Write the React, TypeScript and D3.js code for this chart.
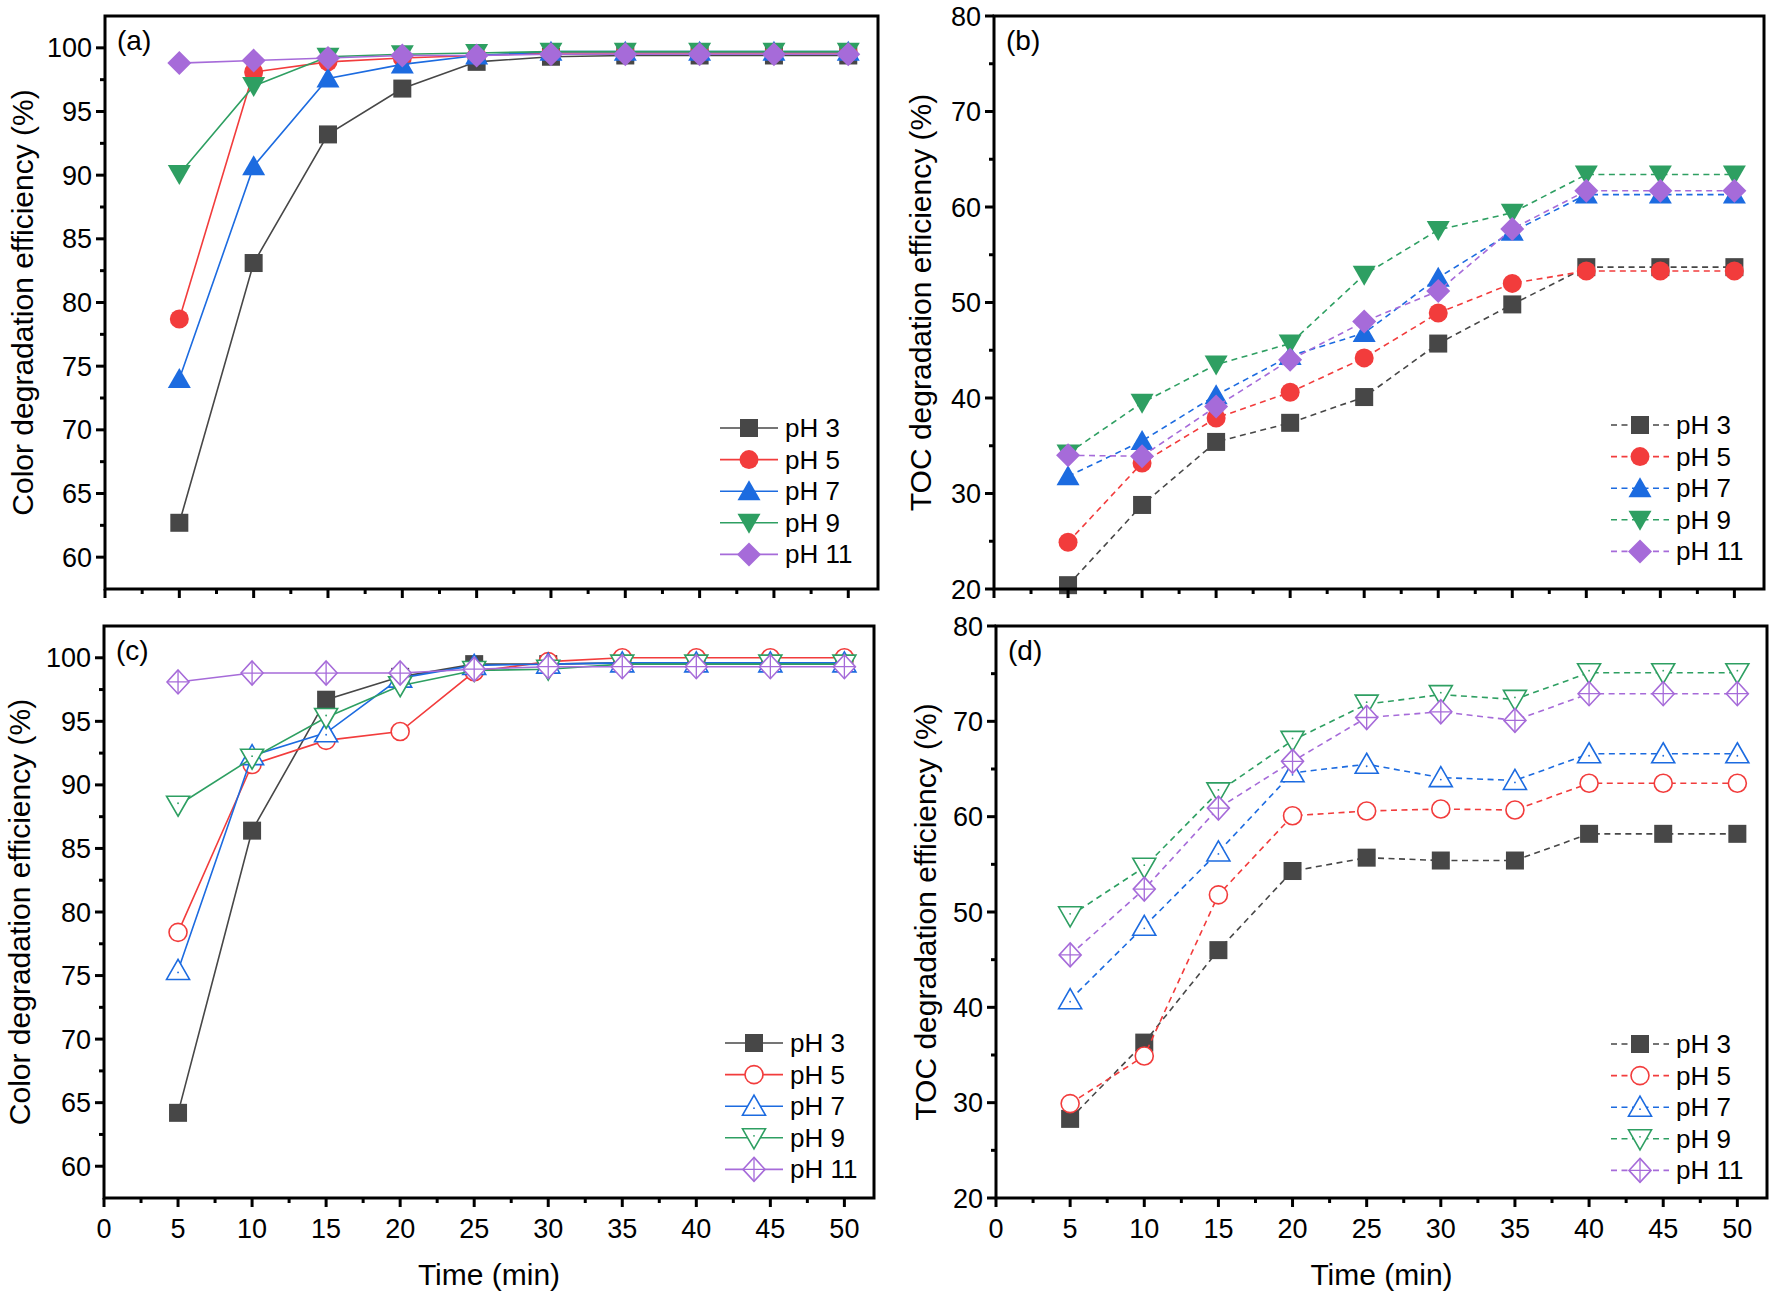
import React from "react";
import * as d3 from "d3";

// sampling times (min)
const times = [5, 10, 15, 20, 25, 30, 35, 40, 45, 50];
const seriesNames = ["pH 3", "pH 5", "pH 7", "pH 9", "pH 11"];
const seriesColors = ["#474747", "#f23c3c", "#1c6be0", "#2e9f62", "#a66bd9"];
const markerKinds = ["square", "circle", "triUp", "triDown", "diamond"];

// (a) colour removal, filled symbols
const colorA = [
  [62.7, 83.1, 93.2, 96.8, 98.9, 99.3, 99.4, 99.4, 99.4, 99.4],
  [78.7, 98.1, 98.9, 99.2, 99.4, 99.6, 99.6, 99.6, 99.6, 99.6],
  [74.0, 90.7, 97.6, 98.7, 99.4, 99.7, 99.7, 99.7, 99.7, 99.7],
  [90.1, 97.0, 99.3, 99.5, 99.6, 99.7, 99.7, 99.7, 99.7, 99.7],
  [98.8, 99.0, 99.2, 99.4, 99.4, 99.5, 99.5, 99.5, 99.5, 99.5],
];
// (b) TOC removal, filled symbols
const tocB = [
  [20.4, 28.8, 35.4, 37.4, 40.1, 45.7, 49.8, 53.7, 53.7, 53.7],
  [24.9, 33.2, 37.9, 40.6, 44.2, 48.9, 52.0, 53.3, 53.3, 53.3],
  [31.8, 35.5, 40.3, 44.4, 46.8, 52.6, 57.4, 61.3, 61.3, 61.3],
  [34.2, 39.5, 43.5, 45.7, 52.9, 57.6, 59.4, 63.4, 63.4, 63.4],
  [34.0, 33.9, 39.1, 44.0, 48.0, 51.2, 57.7, 61.7, 61.7, 61.7],
];
// (c) colour removal, open symbols
const colorC = [
  [64.2, 86.4, 96.7, 98.5, 99.5, 99.5, 99.6, 99.6, 99.6, 99.6],
  [78.4, 91.6, 93.5, 94.2, 98.9, 99.7, 100.0, 100.0, 100.0, 100.0],
  [75.4, 92.3, 94.1, 98.4, 99.4, 99.5, 99.6, 99.6, 99.6, 99.6],
  [88.4, 92.1, 95.3, 97.8, 99.0, 99.1, 99.5, 99.5, 99.5, 99.5],
  [98.1, 98.8, 98.8, 98.8, 99.1, 99.3, 99.3, 99.3, 99.3, 99.3],
];
// (d) TOC removal, open symbols
const tocD = [
  [28.3, 36.3, 46.0, 54.3, 55.7, 55.4, 55.4, 58.2, 58.2, 58.2],
  [29.9, 34.9, 51.8, 60.1, 60.6, 60.8, 60.7, 63.5, 63.5, 63.5],
  [40.8, 48.5, 56.3, 64.6, 65.5, 64.1, 63.8, 66.6, 66.6, 66.6],
  [49.6, 54.7, 62.6, 68.0, 71.8, 72.8, 72.3, 75.1, 75.1, 75.1],
  [45.5, 52.4, 60.9, 65.8, 70.4, 71.0, 70.1, 72.9, 72.9, 72.9],
];

const xTicks = [0, 5, 10, 15, 20, 25, 30, 35, 40, 45, 50];
const colorTicks = [60, 65, 70, 75, 80, 85, 90, 95, 100];
const tocTicks = [20, 30, 40, 50, 60, 70, 80];

const FONT = "'Liberation Sans', Arial, Helvetica, sans-serif";

type MarkerProps = { kind: string; x: number; y: number; color: string; hollow: boolean };

const Marker = ({ kind, x, y, color, hollow }: MarkerProps) => {
  const fill = hollow ? "#fff" : color;
  const stroke = hollow ? color : "none";
  const sw = 1.6;
  if (kind === "square") {
    return <rect x={x - 9} y={y - 9} width={18} height={18} fill={color} />;
  }
  if (kind === "circle") {
    return <circle cx={x} cy={y} r={hollow ? 9 : 9.5} fill={fill} stroke={stroke} strokeWidth={sw} />;
  }
  if (kind === "triUp" || kind === "triDown") {
    const s = kind === "triUp" ? 1 : -1;
    const d = `M${x},${y - 11 * s}L${x + 11.5},${y + 9 * s}L${x - 11.5},${y + 9 * s}Z`;
    return (
      <g>
        <path d={d} fill={fill} stroke={stroke} strokeWidth={sw} strokeLinejoin="miter" />
        {hollow && <circle cx={x} cy={y + 2 * s} r={0.9} fill={color} />}
      </g>
    );
  }
  // diamond
  const rx = hollow ? 11 : 12;
  const ry = 12;
  const d = `M${x},${y - ry}L${x + rx},${y}L${x},${y + ry}L${x - rx},${y}Z`;
  return (
    <g>
      <path d={d} fill={fill} stroke={stroke} strokeWidth={sw} />
      {hollow && (
        <path d={`M${x - rx},${y}H${x + rx}M${x},${y - ry}V${y + ry}`} stroke={color} strokeWidth={1.3} />
      )}
    </g>
  );
};

type PanelProps = {
  box: { x0: number; x1: number; y0: number; y1: number };
  data: number[][];
  yDomain: [number, number];
  yTicks: number[];
  dashed: boolean;
  hollow: boolean;
  xLabels: boolean;
  yTitle: string;
  yTitleX: number;
  tag: string;
  legendX: number;
  legendY: number;
};

const Panel = ({ box, data, yDomain, yTicks, dashed, hollow, xLabels, yTitle, yTitleX, tag, legendX, legendY }: PanelProps) => {
  const x = d3.scaleLinear().domain([0, 52]).range([box.x0, box.x1]);
  const y = d3.scaleLinear().domain(yDomain).range([box.y1, box.y0]);
  const line = d3
    .line<number>()
    .x((_, i) => x(times[i]))
    .y((v) => y(v));
  const xStep = xTicks[1] - xTicks[0];
  const xMinor = xTicks.slice(0, -1).map((t) => t + xStep / 2);
  const yStep = yTicks[1] - yTicks[0];
  const yMinor = yTicks.slice(0, -1).map((t) => t + yStep / 2);
  const dash = dashed ? "6,4.5" : undefined;

  return (
    <g>
      {data.map((vals, si) => (
        <g key={si}>
          <path d={line(vals) || ""} fill="none" stroke={seriesColors[si]} strokeWidth={1.6} strokeDasharray={dash} />
          {vals.map((v, i) => (
            <Marker key={i} kind={markerKinds[si]} x={x(times[i])} y={y(v)} color={seriesColors[si]} hollow={hollow} />
          ))}
        </g>
      ))}

      {/* frame */}
      <rect x={box.x0} y={box.y0} width={box.x1 - box.x0} height={box.y1 - box.y0} fill="none" stroke="#000" strokeWidth={3} />

      {/* x ticks */}
      {xTicks.map((t) => (
        <line key={"xt" + t} x1={x(t)} x2={x(t)} y1={box.y1} y2={box.y1 + 9} stroke="#000" strokeWidth={3} />
      ))}
      {xMinor.map((t) => (
        <line key={"xm" + t} x1={x(t)} x2={x(t)} y1={box.y1} y2={box.y1 + 5} stroke="#000" strokeWidth={3} />
      ))}
      {xLabels &&
        xTicks.map((t) => (
          <text key={"xl" + t} x={x(t)} y={box.y1 + 40} textAnchor="middle" fontSize={27} fontFamily={FONT}>
            {t}
          </text>
        ))}

      {/* y ticks */}
      {yTicks.map((t) => (
        <g key={"yt" + t}>
          <line x1={box.x0 - 9} x2={box.x0} y1={y(t)} y2={y(t)} stroke="#000" strokeWidth={3} />
          <text x={box.x0 - 13} y={y(t) + 9.5} textAnchor="end" fontSize={27} fontFamily={FONT}>
            {t}
          </text>
        </g>
      ))}
      {yMinor.map((t) => (
        <line key={"ym" + t} x1={box.x0 - 5} x2={box.x0} y1={y(t)} y2={y(t)} stroke="#000" strokeWidth={3} />
      ))}

      <text
        transform={`translate(${yTitleX},${(box.y0 + box.y1) / 2}) rotate(-90)`}
        textAnchor="middle"
        dy="0.35em"
        fontSize={30}
        fontFamily={FONT}
      >
        {yTitle}
      </text>

      <text x={box.x0 + 12} y={box.y0 + 34} fontSize={28} fontFamily={FONT}>
        {tag}
      </text>

      {/* legend */}
      {seriesNames.map((name, si) => {
        const ly = legendY + si * 31.6;
        return (
          <g key={name}>
            <line x1={legendX - 29} x2={legendX + 29} y1={ly} y2={ly} stroke={seriesColors[si]} strokeWidth={1.6} strokeDasharray={dash} />
            <Marker kind={markerKinds[si]} x={legendX} y={ly} color={seriesColors[si]} hollow={hollow} />
            <text x={legendX + 36} y={ly + 9} fontSize={26} fontFamily={FONT}>
              {name}
            </text>
          </g>
        );
      })}

      {xLabels && (
        <text x={(box.x0 + box.x1) / 2} y={box.y1 + 87} textAnchor="middle" fontSize={30} fontFamily={FONT}>
          Time (min)
        </text>
      )}
    </g>
  );
};

export default function App() {
  return (
    <svg width={1772} height={1297} style={{ position: "absolute", left: 0, top: 0, background: "#fff" }}>
      <rect width={1772} height={1297} fill="#fff" />
      <Panel
        box={{ x0: 105, x1: 878, y0: 16, y1: 589 }}
        data={colorA}
        yDomain={[57.5, 102.5]}
        yTicks={colorTicks}
        dashed={false}
        hollow={false}
        xLabels={false}
        yTitle="Color degradation efficiency (%)"
        yTitleX={22}
        tag="(a)"
        legendX={749}
        legendY={428}
      />
      <Panel
        box={{ x0: 994, x1: 1764, y0: 16, y1: 589 }}
        data={tocB}
        yDomain={[20, 80]}
        yTicks={tocTicks}
        dashed={true}
        hollow={false}
        xLabels={false}
        yTitle="TOC degradation efficiency (%)"
        yTitleX={920}
        tag="(b)"
        legendX={1640}
        legendY={425}
      />
      <Panel
        box={{ x0: 104, x1: 874, y0: 626, y1: 1198 }}
        data={colorC}
        yDomain={[57.5, 102.5]}
        yTicks={colorTicks}
        dashed={false}
        hollow={true}
        xLabels={true}
        yTitle="Color degradation efficiency (%)"
        yTitleX={19}
        tag="(c)"
        legendX={754}
        legendY={1043}
      />
      <Panel
        box={{ x0: 996, x1: 1767, y0: 626, y1: 1198 }}
        data={tocD}
        yDomain={[20, 80]}
        yTicks={tocTicks}
        dashed={true}
        hollow={true}
        xLabels={true}
        yTitle="TOC degradation efficiency (%)"
        yTitleX={925}
        tag="(d)"
        legendX={1640}
        legendY={1044}
      />
    </svg>
  );
}
